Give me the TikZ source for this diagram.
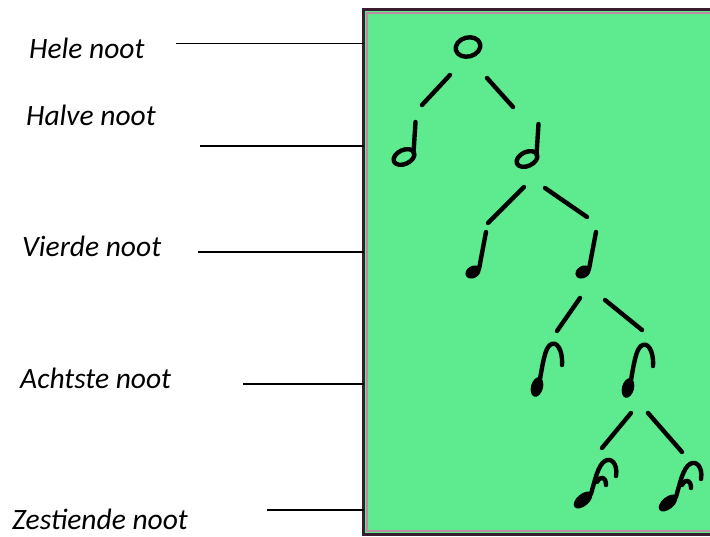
\documentclass[tikz,border=0pt]{standalone}
\usepackage{fontspec}
\setmainfont{Carlito}
\usetikzlibrary{calc}

\definecolor{bord}{RGB}{94,234,142}
\definecolor{rand}{RGB}{58,28,48}
\definecolor{randlicht}{RGB}{190,140,160}

\tikzset{
  ink/.style={line width=4.4pt, line cap=round, line join=round, black},
  branch/.style={line width=4.4pt, line cap=round, black},
  leader/.style={line width=1.3pt, black},
  label/.style={anchor=base west, inner sep=0pt, font=\itshape\fontsize{29.5}{32}\selectfont},
  frame/.style={rectangle, draw=rand, line width=3pt, fill=bord, inner sep=0pt, outer sep=0pt},
  % the note glyphs, drawn round their head
  heel/.pic={\draw[ink, rotate=15] (0,0) ellipse (12.5pt and 9.5pt);},
  halve/.pic={
    \draw[ink, rotate=25] (0,0) ellipse (11pt and 7pt);
    \draw[ink] (9.5,-4) -- (11.5,-35);
  },
  vierde/.pic={
    \fill[rotate=30] (0,0) ellipse (8pt and 6pt);
    \draw[ink] (6,-3) -- (13,-40);
  },
  achtste/.pic={
    \fill[rotate=-15] (0,0) ellipse (6pt and 10pt);
    \draw[ink] (3,-8) .. controls (6,-25) and (8,-38) .. (13,-42)
                      .. controls (19,-47) and (26,-38) .. (25,-22);
  },
  zestiende/.pic={
    \fill[rotate=40] (0,0) ellipse (11pt and 6pt);
    \draw[ink] (8,-6) .. controls (12,-20) and (15,-35) .. (22,-39)
                      .. controls (28,-43) and (35,-36) .. (33,-24);
    \draw[ink] (14,-18) .. controls (18,-25) and (23,-23) .. (23,-15);
  }
}

\begin{document}
\begin{tikzpicture}[x=1pt, y=-1pt]
  \useasboundingbox (0,0) rectangle (710,537);
  \clip (0,0) rectangle (710,537);

  % board with its double edge
  \node[frame, minimum width=360pt, minimum height=525pt] (frame) at (543.5,272) {};
  \draw[randlicht, line width=1.5pt] ($(frame.north west)+(3.5,3.5)$) rectangle ($(frame.south east)+(-3.5,-3.5)$);

  % note heads
  \coordinate (heel) at (468,47);
  \coordinate (halfL) at (404,157);
  \coordinate (halfR) at (527,159);
  \coordinate (kwartL) at (473,272);
  \coordinate (kwartR) at (583,272);
  \coordinate (achtL) at (537,387);
  \coordinate (achtR) at (628,388);
  \coordinate (zestL) at (583,500);
  \coordinate (zestR) at (668,503);

  \pic at (heel) {heel};
  \pic at (halfL) {halve};
  \pic at (halfR) {halve};
  \pic at (kwartL) {vierde};
  \pic at (kwartR) {vierde};
  \pic at (achtL) {achtste};
  \pic at (achtR) {achtste};
  \pic at (zestL) {zestiende};
  \pic at (zestR) {zestiende};

  % tree branches
  \draw[branch] ($(heel)+(-18,28)$) -- ($(halfL)+(18,-52)$);
  \draw[branch] ($(heel)+(19,31)$) -- ($(halfR)+(-14,-52)$);
  \draw[branch] ($(halfR)+(-3,28)$) -- ($(kwartL)+(15,-49)$);
  \draw[branch] ($(halfR)+(18,29)$) -- ($(kwartR)+(4,-55)$);
  \draw[branch] ($(kwartR)+(-3,26)$) -- ($(achtL)+(20,-56)$);
  \draw[branch] ($(kwartR)+(22,28)$) -- ($(achtR)+(14,-58)$);
  \draw[branch] ($(achtR)+(3,25)$) -- ($(zestL)+(19,-52)$);
  \draw[branch] ($(achtR)+(20,25)$) -- ($(zestR)+(14,-51)$);

  % names of the notes
  \node[label] (tHele) at (29,59) {Hele noot};
  \node[label] (tHalve) at (26,126) {Halve noot};
  \node[label] (tVierde) at (22,257) {Vierde noot};
  \node[label] (tAchtste) at (20,389) {Achtste noot};
  \node[label] (tZestiende) at (12,529) {Zestiende noot};

  % leader lines to the board
  \coordinate (lHele) at (176,43.5);
  \coordinate (lHalve) at (200,146);
  \coordinate (lVierde) at (198,252);
  \coordinate (lAchtste) at (243,384);
  \coordinate (lZestiende) at (267,510);
  \foreach \l in {lHele, lHalve, lVierde, lAchtste, lZestiende}
    \draw[leader] (\l) -- (\l -| frame.west);
\end{tikzpicture}
\end{document}
